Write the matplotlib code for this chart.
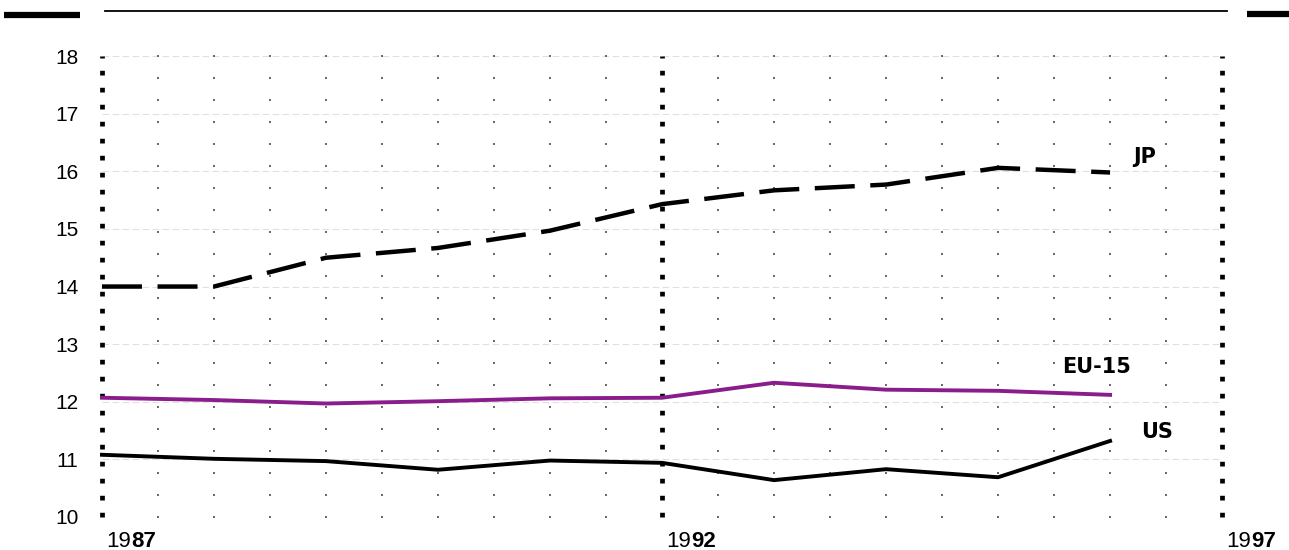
import numpy as np
import matplotlib.pyplot as plt
from matplotlib.lines import Line2D

# data
years = [1987, 1988, 1989, 1990, 1991, 1992, 1993, 1994, 1995, 1996]
jp = [14.0, 14.0, 14.5, 14.67, 14.97, 15.43, 15.67, 15.77, 16.06, 15.98]
eu15 = [12.07, 12.03, 11.97, 12.01, 12.06, 12.07, 12.33, 12.21, 12.19, 12.12]
us = [11.08, 11.01, 10.97, 10.82, 10.98, 10.94, 10.64, 10.83, 10.69, 11.32]
yticks = [10, 11, 12, 13, 14, 15, 16, 17, 18]
xlabels = [(1987, "19", "87"), (1992, "19", "92"), (1997, "19", "97")]

plt.rcParams["font.family"] = ["Liberation Sans", "DejaVu Sans"]

fig = plt.figure(figsize=(12.89, 5.5), dpi=100)
ax = fig.add_axes([0.0791, 0.06, 0.869, 0.838])
ax.set_xlim(1987, 1997)
ax.set_ylim(10, 18)
for s in ax.spines.values():
    s.set_visible(False)

# faint horizontal lines at whole numbers
for y in yticks:
    ax.axhline(y, color="#e0e0e0", lw=0.8, ls=(0, (6, 3)), zorder=1)

# small dot grid
gx = [x for x in np.arange(1987.5, 1997, 0.5) if x != 1992]
gy = np.linspace(10, 18, 22)
GX, GY = np.meshgrid(gx, gy)
ax.scatter(GX.ravel(), GY.ravel(), s=3, marker="s", color="#6a6a6a",
           linewidths=0, zorder=2, clip_on=False)

# thick dotted verticals
for x in [1987, 1992, 1997]:
    ax.axvline(x, color="black", lw=3.4, ls=(0, (1, 2.6)),
               dash_capstyle="butt", zorder=3, clip_on=False)

# series
ax.plot(years, jp, color="black", lw=3.2, dashes=(9, 3.5),
        solid_capstyle="butt", zorder=5, clip_on=False)
ax.plot(years, eu15, color="#8b1c8b", lw=2.8, zorder=5, clip_on=False)
ax.plot(years, us, color="black", lw=2.8, zorder=5, clip_on=False)

# series labels
lab = dict(fontsize=15, fontweight="heavy", ha="center", va="center",
           family="DejaVu Sans")
ax.text(1996.31, 16.25, "JP", **lab)
ax.text(1995.88, 12.6, "EU-15", **lab)
ax.text(1996.42, 11.48, "US", **lab)

# y tick labels
ax.set_yticks(yticks)
ax.set_yticklabels([str(t) for t in yticks], fontsize=15)
ax.tick_params(axis="y", length=0, pad=17)
ax.set_xticks([])

# x labels: "19" regular + "87" bold
for x, a, b in xlabels:
    t1 = ax.annotate(a, xy=(x, 10), xytext=(3, -10), textcoords="offset points",
                     fontsize=16, ha="left", va="top", annotation_clip=False)
    ax.annotate(b, xy=(1, 0), xycoords=t1, fontsize=16, fontweight="bold",
                ha="left", va="bottom")

# top decorations
fig.add_artist(Line2D([4 / 1289, 80 / 1289], [1 - 15 / 550] * 2,
                      color="black", lw=4.5, solid_capstyle="butt"))
fig.add_artist(Line2D([105 / 1289, 1227 / 1289], [1 - 11 / 550] * 2,
                      color="black", lw=1.3))
fig.add_artist(Line2D([1247 / 1289, 1289 / 1289], [1 - 14 / 550] * 2,
                      color="black", lw=4.5, solid_capstyle="butt"))

fig.savefig("out.png", dpi=100, facecolor="white")
